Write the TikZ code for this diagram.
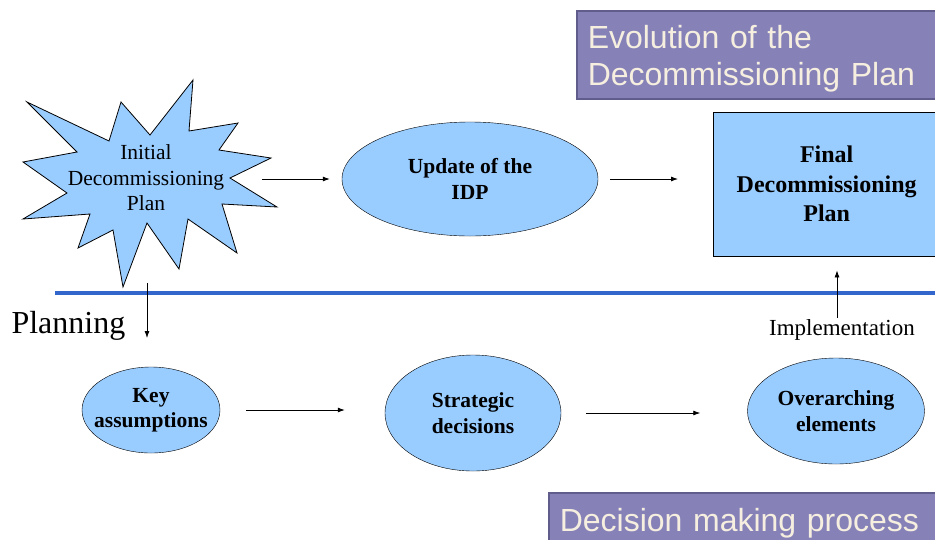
\documentclass[tikz,border=0pt]{standalone}
\usepackage{fontspec}
\setmainfont{Liberation Serif}
\newfontfamily\titlefont{Liberation Sans}
\usetikzlibrary{shapes.geometric,arrows.meta}
\definecolor{boxblue}{RGB}{153,204,255}
\definecolor{bandpurple}{RGB}{134,130,184}
\definecolor{banddark}{RGB}{96,92,140}
\definecolor{bandtext}{RGB}{246,239,224}
\definecolor{rulerblue}{RGB}{51,102,204}
\begin{document}
\begin{tikzpicture}[>={Latex[length=7pt,width=5pt]}, x=1pt, y=-1pt,
		stepnode/.style={ellipse, draw=black, fill=boxblue, inner sep=0pt, align=center,
			font=\fontsize{21.5}{25.5}\selectfont\bfseries},
		band/.style={rectangle, draw=banddark, line width=1.5pt, fill=bandpurple, text=bandtext,
			anchor=north west, inner xsep=11pt, align=left, font=\fontsize{32}{37}\selectfont\titlefont,
			text height=32pt},
		flow/.style={->, line width=0.8pt}]
				\useasboundingbox (0,0) rectangle (935,539);
				\clip (0,0) rectangle (935,539);
				
				% banners
				\node[band, minimum height=88pt, text width=340pt] (evo) at (576,10) {Evolution of the\\Decommissioning Plan};
				\node[band, minimum height=52pt, text width=380pt] (dmp) at (548,492) {Decision making process};
				
				% separator
				\draw[rulerblue, line width=4pt] (55,293) -- (940,293);
				
				% initial plan (star)
				\draw[fill=boxblue, line width=0.8pt] (27,102) -- (109,141) -- (121,102) -- (150,135) -- (193,80)
					-- (189,131) -- (238,123) -- (219,150) -- (271,158) -- (230,178) -- (277,207)
					-- (222,204) -- (237,253) -- (188,219) -- (179,269) -- (147,223) -- (123,287)
					-- (113,230) -- (78,248) -- (90,214) -- (23,219) -- (67,193) -- (23,162)
					-- (77,152) -- cycle;
				\node[align=center, font=\fontsize{21.5}{25.5}\selectfont] (initial) at (146,178) {Initial\\Decommissioning\\Plan};
				\coordinate (star-e) at (262,179);
				\coordinate (star-s) at (147,283);
				\coordinate (plan-end) at (147,338);
				
				% upper row
				\node[stepnode, minimum width=256pt, minimum height=114pt] (update) at (470,179) {Update of the\\IDP};
				\node[rectangle, draw=black, fill=boxblue, anchor=north west, minimum width=227pt, minimum height=144pt,
					align=center, font=\fontsize{24}{29.5}\selectfont\bfseries] (final) at (713,112) {Final\\Decommissioning\\Plan};
				
				% lower row
				\node[stepnode, inner xsep=-8pt, minimum width=138pt, minimum height=86pt] (key) at (151,410) {Key\\assumptions};
				\node[stepnode, minimum width=176pt, minimum height=116pt] (strategic) at (473,413) {Strategic\\decisions};
				\node[stepnode, minimum width=177pt, minimum height=106pt] (over) at (836,411) {Overarching\\elements};
				
				% labels
				\node[anchor=west, font=\fontsize{32}{36}\selectfont] (planning) at (8,326) {Planning};
				\node[font=\fontsize{23}{27}\selectfont] (impl) at (842,330) {Implementation};
				\coordinate (impl-top) at ([xshift=-5pt, yshift=-2pt]impl.north);
				
				% arrows
				\draw[flow, shorten >=12pt] (star-e) -- (star-e -| update.west);
				\draw[flow, shorten <=12pt, shorten >=35pt] (update.east) -- (update.east -| final.west);
				\draw[flow] (star-s) -- (plan-end);
				\draw[flow, shorten <=26pt, shorten >=40pt] (key.east) -- (key.east -| strategic.west);
				\draw[flow, shorten <=25pt, shorten >=47pt] (strategic.east) -- (strategic.east -| over.west);
				\draw[flow, shorten >=14pt] (impl-top) -- (impl-top |- final.south);
			\end{tikzpicture}
\end{document}
